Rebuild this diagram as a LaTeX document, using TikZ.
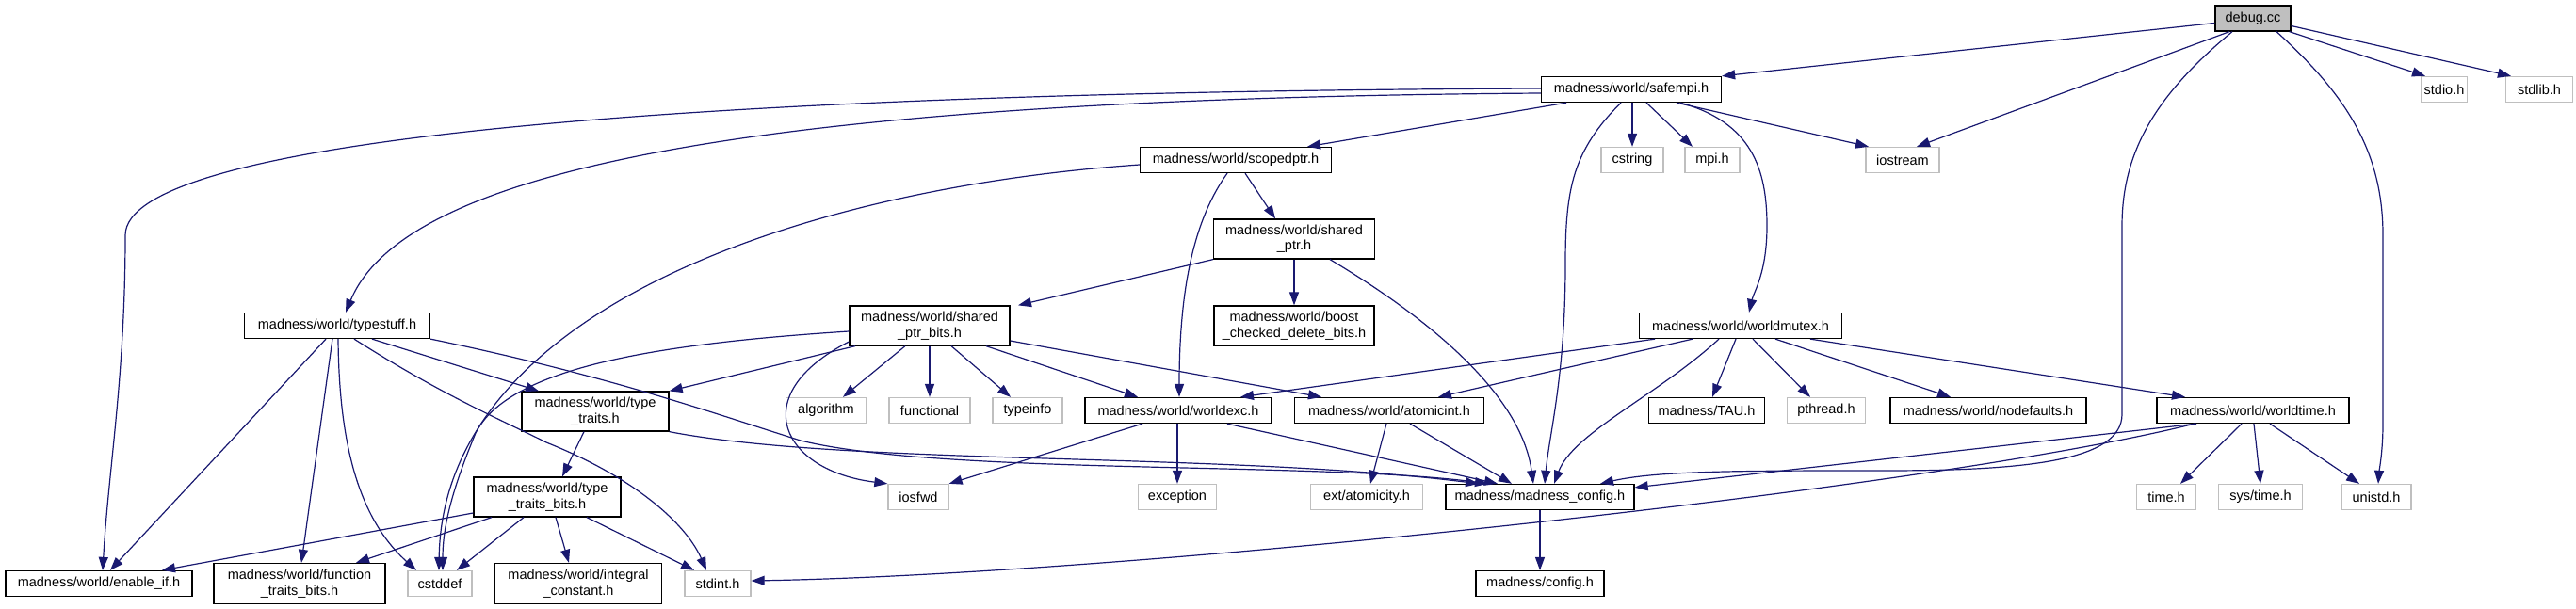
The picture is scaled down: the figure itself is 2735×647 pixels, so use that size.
\documentclass[tikz,border=0pt]{standalone}
\usepackage{fontspec}
\usetikzlibrary{arrows.meta}
\newfontfamily\nodefamily{Liberation Sans}
\definecolor{edgecol}{RGB}{25,25,112}
\definecolor{grayborder}{RGB}{191,191,191}
\definecolor{rootfill}{RGB}{191,191,191}
\tikzset{
  doc/.style={draw=black, fill=white, line width=1.3pt, minimum height=27pt, inner sep=0pt,
    align=center, font=\nodefamily\fontsize{14.5pt}{16.5pt}\selectfont},
  undoc/.style={doc, draw=grayborder},
  root/.style={doc, fill=rootfill},
  two/.style={minimum height=42pt},
  arr/.style={draw=edgecol, line width=1.2pt, -{Triangle[length=14pt,width=10pt]}}
}
\begin{document}
\begin{tikzpicture}[x=1pt,y=-1pt]
\useasboundingbox (0,0) rectangle (2735,647);
% row 1
\node[root, minimum width=80pt] (debug) at (2392,19.5) {debug.cc};
% row 2
\node[doc, minimum width=191pt] (safempi) at (1732,95) {madness/world/safempi.h};
\node[undoc, minimum width=49pt] (stdio) at (2595,95) {stdio.h};
\node[undoc, minimum width=71pt] (stdlib) at (2696,95) {stdlib.h};
% row 3
\node[doc, minimum width=203pt] (scopedptr) at (1312,170) {madness/world/scopedptr.h};
\node[undoc, minimum width=66pt] (cstring) at (1733,170) {cstring};
\node[undoc, minimum width=58pt] (mpi) at (1818,170) {mpi.h};
\node[undoc, minimum width=78pt] (iostream) at (2020,170) {iostream};
% row 4
\node[doc, two, minimum width=171pt] (sharedptr) at (1374,254) {madness/world/shared\\\_ptr.h};
% row 5
\node[doc, minimum width=197pt] (typestuff) at (358,346) {madness/world/typestuff.h};
\node[doc, two, minimum width=170pt] (sharedptrbits) at (987,346) {madness/world/shared\\\_ptr\_bits.h};
\node[doc, two, minimum width=170pt] (boost) at (1374,346) {madness/world/boost\\\_checked\_delete\_bits.h};
\node[doc, minimum width=215pt] (worldmutex) at (1848,346) {madness/world/worldmutex.h};
% row 6
\node[doc, two, minimum width=156pt] (typetraits) at (632,437) {madness/world/type\\\_traits.h};
\node[undoc, minimum width=85pt] (algorithm) at (877,436) {algorithm};
\node[undoc, minimum width=86pt] (functional) at (987,436) {functional};
\node[undoc, minimum width=74pt] (typeinfo) at (1091,436) {typeinfo};
\node[doc, minimum width=198pt] (worldexc) at (1251,436) {madness/world/worldexc.h};
\node[doc, minimum width=201pt] (atomicint) at (1475,436) {madness/world/atomicint.h};
\node[doc, minimum width=123pt] (TAU) at (1812,436) {madness/TAU.h};
\node[undoc, minimum width=83pt] (pthread) at (1939,436) {pthread.h};
\node[doc, minimum width=208pt] (nodefaults) at (2111,436) {madness/world/nodefaults.h};
\node[doc, minimum width=204pt] (worldtime) at (2392,436) {madness/world/worldtime.h};
% row 7
\node[doc, two, minimum width=156pt] (typetraitsbits) at (581,528) {madness/world/type\\\_traits\_bits.h};
\node[undoc, minimum width=64pt] (iosfwd) at (975,528) {iosfwd};
\node[undoc, minimum width=83pt] (exception) at (1250,528) {exception};
\node[undoc, minimum width=119pt] (atomicity) at (1451,528) {ext/atomicity.h};
\node[doc, minimum width=200pt] (madnessconfig) at (1635,528) {madness/madness\_config.h};
\node[undoc, minimum width=63pt] (time) at (2300,528) {time.h};
\node[undoc, minimum width=89pt] (systime) at (2400,528) {sys/time.h};
\node[undoc, minimum width=74pt] (unistd) at (2523,528) {unistd.h};
% row 8
\node[doc, minimum width=198pt] (enableif) at (105,620) {madness/world/enable\_if.h};
\node[doc, two, minimum width=182pt, minimum height=43pt] (functraits) at (318,620) {madness/world/function\\\_traits\_bits.h};
\node[undoc, minimum width=68pt] (cstddef) at (467,620) {cstddef};
\node[doc, two, minimum width=177pt, minimum height=43pt] (integral) at (614,620) {madness/world/integral\\\_constant.h};
\node[undoc, minimum width=70pt] (stdint) at (762,620) {stdint.h};
\node[doc, minimum width=136pt] (config) at (1635,620) {madness/config.h};

% ---- edges from debug.cc
\draw[arr] ([yshift=-5pt]debug.west) -- (safempi.north east);
\draw[arr] ([xshift=-25pt]debug.south) -- ([xshift=15pt]iostream.north);
\draw[arr] ([xshift=-2pt]debug.south east) -- ([xshift=-20pt]stdio.north);
\draw[arr] ([yshift=-8pt]debug.east) -- ([xshift=-30pt]stdlib.north);
\draw[arr] ([xshift=-22pt]debug.south) .. controls (2290,100) and (2253,160) .. (2253,240)
  -- (2253,440) .. controls (2253,490) and (2150,500) .. (2000,500)
  .. controls (1850,500) and (1760,500) .. ([xshift=64pt]madnessconfig.north);
\draw[arr] ([xshift=25pt]debug.south) .. controls (2490,100) and (2530,160) .. (2530,250)
  -- (2530,450) .. controls (2530,480) and (2526,500) .. ([xshift=2pt]unistd.north);
% ---- safempi
\draw[arr] ([yshift=1pt]safempi.west) .. controls (700,98) and (133,150) .. (133,250)
  .. controls (133,400) and (115,500) .. ([xshift=4pt]enableif.north);
\draw[arr] ([yshift=-4pt]safempi.west) .. controls (800,105) and (430,180) .. ([xshift=9pt]typestuff.north);
\draw[arr] ([xshift=-69pt]safempi.south) -- ([xshift=76pt]scopedptr.north);
\draw[arr] ([xshift=1pt]safempi.south) -- (cstring.north);
\draw[arr] ([xshift=16pt]safempi.south) -- ([xshift=-21pt]mpi.north);
\draw[arr] ([xshift=48pt]safempi.south) -- ([xshift=-36pt]iostream.north);
\draw[arr] ([xshift=-11pt]safempi.south) .. controls (1670,160) and (1662,200) .. (1662,280)
  .. controls (1662,400) and (1645,460) .. ([xshift=5pt]madnessconfig.north);
\draw[arr] ([xshift=52pt]safempi.south) .. controls (1860,130) and (1876,180) .. (1876,240)
  .. controls (1876,290) and (1862,310) .. ([xshift=9pt]worldmutex.north);
% ---- scopedptr
\draw[arr] ([yshift=-5pt]scopedptr.west) .. controls (850,200) and (470,330) .. ([xshift=-1pt]cstddef.north);
\draw[arr] ([xshift=-9pt]scopedptr.south) .. controls (1270,230) and (1252,300) .. ([xshift=1pt]worldexc.north);
\draw[arr] ([xshift=10pt]scopedptr.south) -- ([xshift=-20pt]sharedptr.north);
% ---- sharedptr
\draw[arr] (sharedptr.south west) -- ([xshift=94pt]sharedptrbits.north);
\draw[arr] (sharedptr.south) -- (boost.north);
\draw[arr] ([xshift=38pt]sharedptr.south) .. controls (1520,340) and (1615,420) .. ([xshift=-7pt]madnessconfig.north);
% ---- typestuff
\draw[arr] ([xshift=-12pt]typestuff.south) -- ([xshift=12pt]enableif.north);
\draw[arr] ([xshift=-5pt]typestuff.south) -- ([xshift=2pt]functraits.north);
\draw[arr] ([xshift=1pt]typestuff.south) .. controls (360,470) and (380,550) .. ([xshift=-25pt]cstddef.north);
\draw[arr] ([xshift=18pt]typestuff.south) .. controls (470,420) and (530,445) .. (580,470)
  .. controls (680,510) and (730,560) .. ([xshift=-12pt]stdint.north);
\draw[arr] ([xshift=37pt]typestuff.south) -- ([xshift=-60pt]typetraits.north);
\draw[arr] (typestuff.south east) .. controls (650,400) and (760,440) .. (850,468)
  .. controls (1000,505) and (1400,490) .. ([xshift=-55pt]madnessconfig.north);
% ---- typetraits
\draw[arr] ([xshift=-12pt]typetraits.south) -- ([xshift=16pt]typetraitsbits.north);
\draw[arr] (typetraits.south east) .. controls (900,495) and (1300,480) .. ([xshift=-65pt]madnessconfig.north);
% ---- typetraitsbits
\draw[arr] ([yshift=-17pt]typetraitsbits.west) -- ([xshift=67pt]enableif.north);
\draw[arr] ([xshift=-59pt]typetraitsbits.south) -- ([xshift=60pt]functraits.north);
\draw[arr] ([xshift=-25pt]typetraitsbits.south) -- ([xshift=18pt]cstddef.north);
\draw[arr] ([xshift=9pt]typetraitsbits.south) -- ([xshift=-10pt]integral.north);
\draw[arr] ([xshift=42pt]typetraitsbits.south) -- ([xshift=-25pt]stdint.north);
% ---- sharedptrbits
\draw[arr] ([xshift=-26pt]sharedptrbits.south) -- ([xshift=18pt]algorithm.north);
\draw[arr] (sharedptrbits.south) -- (functional.north);
\draw[arr] ([xshift=23pt]sharedptrbits.south) -- ([xshift=-18pt]typeinfo.north);
\draw[arr] ([xshift=60pt]sharedptrbits.south) -- ([xshift=-43pt]worldexc.north);
\draw[arr] ([yshift=-16pt]sharedptrbits.east) -- ([xshift=-72pt]atomicint.north);
\draw[arr] ([yshift=-6pt]sharedptrbits.west) .. controls (700,365) and (540,390) .. (505,460)
  .. controls (480,520) and (470,560) .. ([xshift=3pt]cstddef.north);
\draw[arr] ([yshift=-17pt]sharedptrbits.west) .. controls (790,420) and (830,500) .. (iosfwd.north west);
\draw[arr] ([xshift=-79pt]sharedptrbits.south) -- (typetraits.north east);
% ---- worldexc
\draw[arr] ([xshift=-38pt]worldexc.south) -- (iosfwd.north east);
\draw[arr] ([xshift=-1pt]worldexc.south) -- (exception.north);
\draw[arr] ([xshift=52pt]worldexc.south) -- ([xshift=-45pt]madnessconfig.north);
% ---- atomicint
\draw[arr] ([xshift=-3pt]atomicint.south) -- ([xshift=4pt]atomicity.north);
\draw[arr] ([xshift=22pt]atomicint.south) -- ([xshift=-30pt]madnessconfig.north);
% ---- worldmutex
\draw[arr] ([xshift=-91pt]worldmutex.south) -- ([xshift=66pt]worldexc.north);
\draw[arr] ([xshift=-51pt]worldmutex.south) -- ([xshift=52pt]atomicint.north);
\draw[arr] ([xshift=-23pt]worldmutex.south) .. controls (1760,420) and (1670,460) .. ([xshift=15pt]madnessconfig.north);
\draw[arr] ([xshift=-5pt]worldmutex.south) -- ([xshift=6pt]TAU.north);
\draw[arr] ([xshift=13pt]worldmutex.south) -- ([xshift=-17pt]pthread.north);
\draw[arr] ([xshift=37pt]worldmutex.south) -- ([xshift=-40pt]nodefaults.north);
\draw[arr] ([xshift=74pt]worldmutex.south) -- ([xshift=-72pt]worldtime.north);
% ---- worldtime
\draw[arr] ([xshift=-60pt]worldtime.south) -- ([yshift=-4pt]madnessconfig.north east);
\draw[arr] ([xshift=-62pt]worldtime.south) .. controls (2050,520) and (1200,610) .. ([yshift=3pt]stdint.east);
\draw[arr] ([xshift=-12pt]worldtime.south) -- ([xshift=15pt]time.north);
\draw[arr] ([xshift=1pt]worldtime.south) -- (systime.north);
\draw[arr] ([xshift=18pt]worldtime.south) -- ([xshift=-18pt]unistd.north);
% ---- madness_config
\draw[arr] (madnessconfig.south) -- (config.north);
\end{tikzpicture}
\end{document}
